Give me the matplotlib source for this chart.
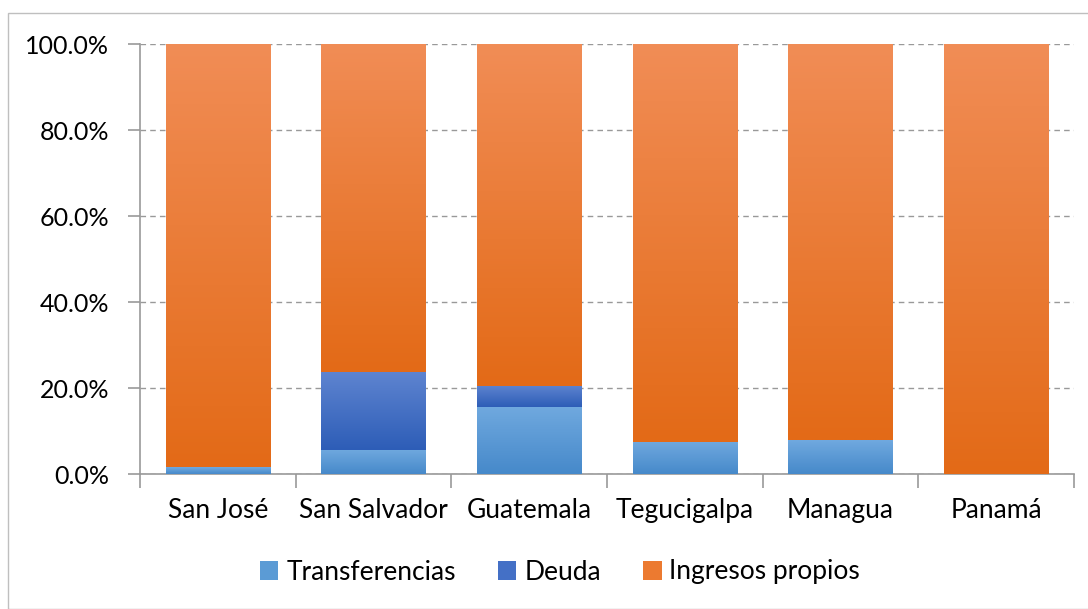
import matplotlib
matplotlib.use("Agg")
import matplotlib.pyplot as plt
import numpy as np
from matplotlib.colors import LinearSegmentedColormap
from matplotlib.patches import Rectangle, Patch
from matplotlib.ticker import FixedLocator, PercentFormatter

plt.rcParams['font.family'] = ['Lato', 'DejaVu Sans']

categories = ["San José", "San Salvador", "Guatemala", "Tegucigalpa", "Managua", "Panamá"]
transferencias = [1.6, 5.6, 15.6, 7.5, 7.9, 0.0]
deuda = [0.0, 18.1, 4.9, 0.0, 0.0, 0.0]
ingresos = [100 - t - d for t, d in zip(transferencias, deuda)]
series_names = ["Transferencias", "Deuda", "Ingresos propios"]
y_ticks = [0, 20, 40, 60, 80, 100]

# gradient colours (top, bottom) and legend swatch colour
grad = {
    "Transferencias": ("#70A9DF", "#4689CA"),
    "Deuda": ("#5E84D0", "#2D5DB7"),
    "Ingresos propios": ("#F18D56", "#E36A17"),
}
swatch = {
    "Transferencias": "#5B9BD5",
    "Deuda": "#4470C6",
    "Ingresos propios": "#EC7A30",
}

fig = plt.figure(figsize=(10.88, 6.09), dpi=100)
fig.patches.append(Rectangle((8/1088, 0), 1.2, 1 - 13/609, transform=fig.transFigure,
                             fill=False, edgecolor="#BFBFBF", linewidth=1.0))
ax = fig.add_axes([140/1088, 1 - 474/609, 934/1088, 430/609])

x = np.arange(len(categories))
width = 0.67
bottoms = np.zeros(len(categories))
for name, vals in zip(series_names, [transferencias, deuda, ingresos]):
    top_c, bot_c = grad[name]
    cmap = LinearSegmentedColormap.from_list(name, [bot_c, top_c])
    bars = ax.bar(x, vals, width, bottom=bottoms, color=bot_c, edgecolor="none", zorder=2)
    for b in bars:
        h = b.get_height()
        if h <= 0:
            continue
        x0, y0 = b.get_x(), b.get_y()
        g = np.linspace(0, 1, 256).reshape(-1, 1)
        im = ax.imshow(g, cmap=cmap, origin="lower", aspect="auto",
                       extent=[x0, x0 + b.get_width(), y0, y0 + h], zorder=3)
        im.set_clip_path(b)
    bottoms += np.array(vals)

ax.set_xlim(-0.5, len(categories) - 0.5)
ax.set_ylim(0, 100)
ax.yaxis.set_major_locator(FixedLocator(y_ticks))
ax.yaxis.set_major_formatter(PercentFormatter(decimals=1))
ax.set_xticks(x)
ax.set_xticklabels(categories)
ax.xaxis.set_minor_locator(FixedLocator(np.arange(-0.5, len(categories), 1.0)))
ax.tick_params(axis="x", which="major", length=0, labelsize=19, pad=17)
ax.tick_params(axis="x", which="minor", length=10, color="#999999", width=1.2)
ax.tick_params(axis="y", length=9, color="#999999", width=1.2, labelsize=18, pad=13)
ax.grid(axis="y", linestyle=(0, (4, 3)), color="#999999", linewidth=1.0, zorder=1)
ax.set_axisbelow(True)
for s in ["top", "right"]:
    ax.spines[s].set_visible(False)
for s in ["left", "bottom"]:
    ax.spines[s].set_color("#999999")
    ax.spines[s].set_linewidth(1.2)

handles = [Patch(facecolor=swatch[n], edgecolor="none") for n in series_names]
fig.legend(handles, series_names, loc="center", bbox_to_anchor=(560/1088, 1 - 572/609),
           ncol=3, frameon=False, fontsize=19, handlelength=0.7, handleheight=0.7,
           handletextpad=0.3, columnspacing=1.6)

fig.savefig("out.png", dpi=100)
